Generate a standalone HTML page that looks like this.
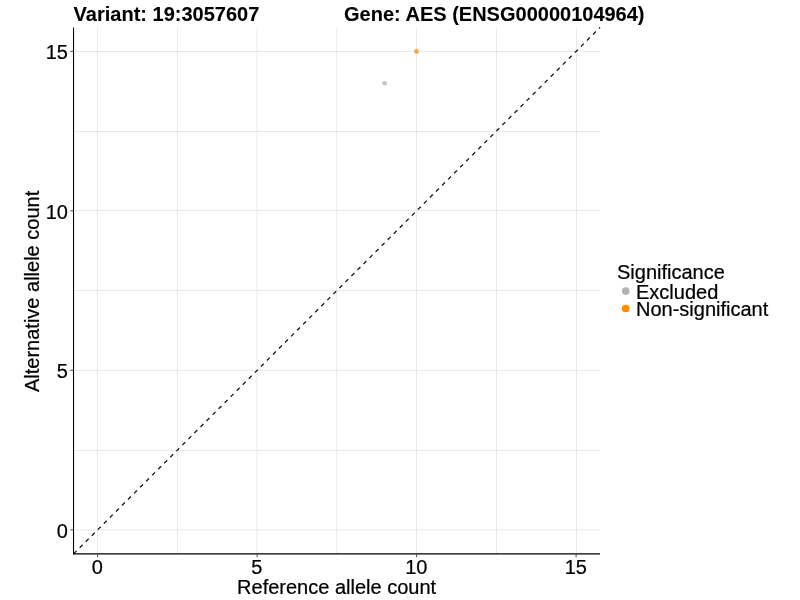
<!DOCTYPE html>
<html><head><meta charset="utf-8"><title>Allele counts</title>
<style>
html,body{margin:0;padding:0;background:#fff;}
svg{display:block;font-family:"Liberation Sans",sans-serif;}
text{stroke:#000;stroke-width:0.22px;stroke-linejoin:round;}
text.b{stroke-width:0.1px;}
</style></head>
<body>
<svg width="800" height="600" viewBox="0 0 800 600">
<rect width="800" height="600" fill="#ffffff"/>
<g stroke="#d9d9d9" stroke-width="0.55" fill="none">
<path d="M97.5 27.43V553.77 M177.5 27.43V553.77 M257.08 27.43V553.77 M336.75 27.43V553.77 M416.5 27.43V553.77 M496.5 27.43V553.77 M576.5 27.43V553.77"/>
<path d="M73.67 529.92H600.02 M73.67 450.5H600.02 M73.67 370.45H600.02 M73.67 290.5H600.02 M73.67 210.5H600.02 M73.67 131.5H600.02 M73.67 51.5H600.02"/>
</g>
<path d="M73.67 553.77L600.02 27.43" stroke="#1c1c1c" stroke-width="1.35" stroke-dasharray="4.1 4.44" fill="none"/>
<circle cx="384.7" cy="83.3" r="2.3" fill="#c4c4c4"/>
<circle cx="416.5" cy="51.4" r="2.4" fill="#fba53e"/>
<g stroke="#2a2a2a" stroke-width="0.85">
<path d="M70.2 529.85H73 M70.2 370.35H73 M70.2 210.85H73 M70.2 51.35H73"/>
<path d="M97.6 554.4V557.15 M257.1 554.4V557.15 M416.6 554.4V557.15 M576.1 554.4V557.15"/>
</g>
<path d="M73.52 27.43V554.37" stroke="#000" stroke-width="1.07" fill="none"/>
<path d="M72.98 553.87H600.02" stroke="#000" stroke-width="1.07" fill="none"/>
<g font-size="20" fill="#000">
<text x="67.9" y="537.60" text-anchor="end">0</text>
<text x="67.9" y="378.10" text-anchor="end">5</text>
<text x="67.9" y="218.60" text-anchor="end">10</text>
<text x="67.9" y="59.10" text-anchor="end">15</text>
<text x="97.30" y="573.9" text-anchor="middle">0</text>
<text x="256.80" y="573.9" text-anchor="middle">5</text>
<text x="416.30" y="573.9" text-anchor="middle">10</text>
<text x="575.80" y="573.9" text-anchor="middle">15</text>
</g>
<text x="336.6" y="594" font-size="20" text-anchor="middle" fill="#000">Reference allele count</text>
<text transform="translate(39.4,291.4) rotate(-90)" font-size="20" text-anchor="middle" fill="#000">Alternative allele count</text>
<text x="73.6" y="20.7" class="b" font-size="20" font-weight="bold" fill="#000">Variant: 19:3057607</text>
<text x="344" y="20.7" class="b" font-size="20" font-weight="bold" fill="#000">Gene: AES (ENSG00000104964)</text>
<text x="617" y="278.5" font-size="20" fill="#000">Significance</text>
<circle cx="625.7" cy="291.1" r="3.85" fill="#b3b3b3"/>
<circle cx="625.7" cy="308.5" r="3.85" fill="#ff8c00"/>
<text x="636" y="299" font-size="20" fill="#000">Excluded</text>
<text x="636" y="316" font-size="20" fill="#000">Non-significant</text>
</svg>
</body></html>
